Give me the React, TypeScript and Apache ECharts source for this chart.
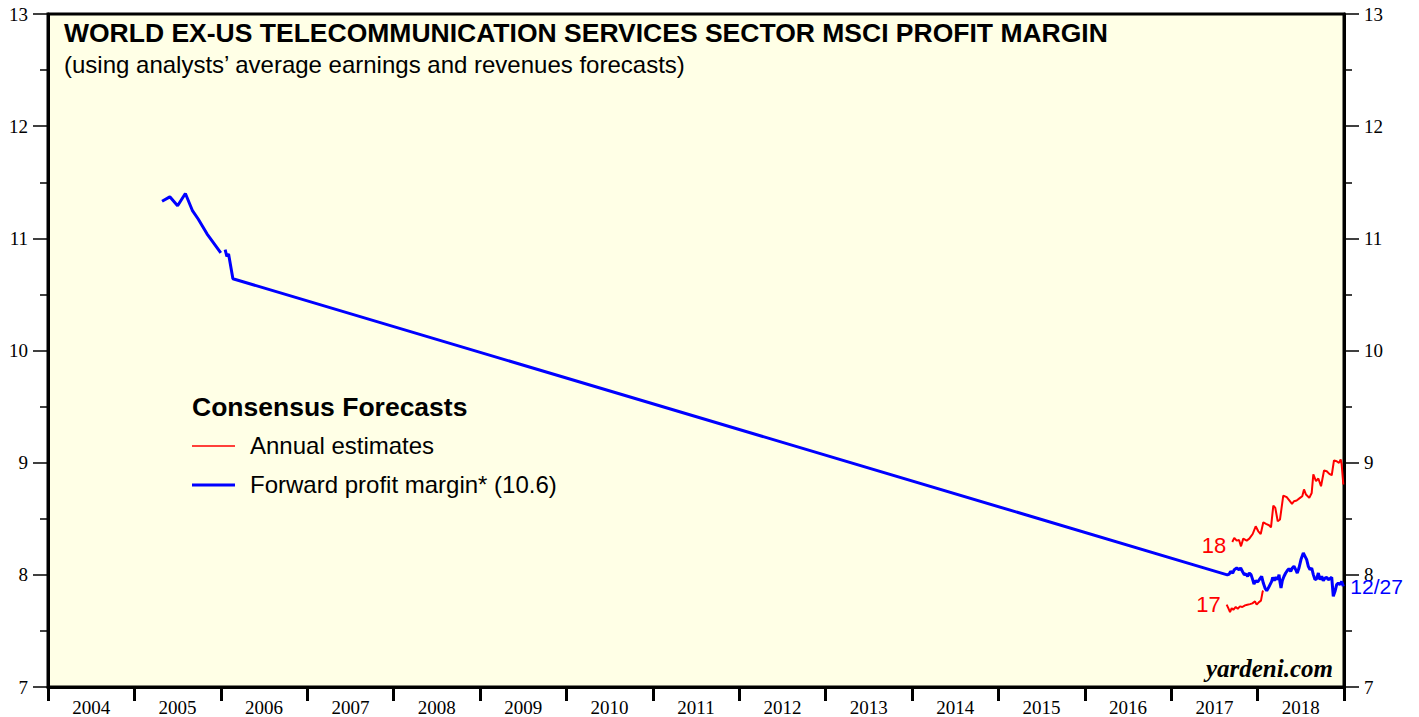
import React, { useEffect, useRef } from "react";
import * as echarts from "echarts";

const YEAR_LABELS = ["2004", "2005", "2006", "2007", "2008", "2009", "2010", "2011", "2012", "2013", "2014", "2015", "2016", "2017", "2018"];
const Y_TICKS_MIN = 7;
const Y_TICKS_MAX = 13;

// Forward profit margin (blue) – [decimal year, value]; null = gap
const forwardMargin: [number, number | null][] = [
  [2005.32, 11.33], [2005.41, 11.37], [2005.50, 11.29], [2005.59, 11.40], [2005.67, 11.25],
  [2005.74, 11.17], [2005.84, 11.04], [2006.00, 10.87], [2006.02, null], [2006.05, 10.90],
  [2006.07, 10.84], [2006.09, 10.86], [2006.14, 10.64],
  [2017.649, 8.0], [2017.672, 8.007], [2017.688, 8.031], [2017.712, 8.016], [2017.73, 8.046],
  [2017.758, 8.061], [2017.785, 8.046], [2017.804, 8.061], [2017.828, 8.025], [2017.846, 8.002],
  [2017.866, 8.007], [2017.885, 7.987], [2017.904, 8.016], [2017.924, 8.002], [2017.943, 7.957],
  [2017.958, 7.918], [2017.978, 7.948], [2018.001, 7.936], [2018.028, 7.966], [2018.047, 7.987],
  [2018.066, 7.927], [2018.086, 7.882], [2018.106, 7.859], [2018.124, 7.882], [2018.144, 7.913],
  [2018.163, 7.942], [2018.175, 7.978], [2018.193, 7.948], [2018.213, 7.978], [2018.233, 7.957],
  [2018.248, 8.002], [2018.259, 7.936], [2018.271, 7.882], [2018.286, 7.948], [2018.306, 7.987],
  [2018.325, 8.016], [2018.344, 8.038], [2018.363, 8.055], [2018.383, 8.031], [2018.402, 8.061],
  [2018.421, 8.076], [2018.441, 8.046], [2018.459, 8.016], [2018.479, 8.061], [2018.502, 8.136],
  [2018.529, 8.195], [2018.549, 8.165], [2018.568, 8.136], [2018.587, 8.076], [2018.606, 8.046],
  [2018.626, 8.061], [2018.645, 8.002], [2018.664, 7.957], [2018.684, 7.966], [2018.703, 8.016],
  [2018.722, 7.957], [2018.742, 7.987], [2018.76, 7.948], [2018.78, 7.971], [2018.8, 7.978],
  [2018.818, 7.957], [2018.838, 7.966], [2018.858, 7.978], [2018.876, 7.808], [2018.896, 7.853],
  [2018.915, 7.913], [2018.934, 7.927], [2018.954, 7.913], [2018.973, 7.942], [2018.992, 7.897],
];

// Annual estimates for 2017 (red)
const annual2017: [number, number][] = [
  [2017.642, 7.734], [2017.661, 7.703], [2017.681, 7.668], [2017.7, 7.703], [2017.719, 7.689],
  [2017.747, 7.713], [2017.77, 7.698], [2017.796, 7.719], [2017.823, 7.713], [2017.854, 7.728],
  [2017.881, 7.734], [2017.912, 7.739], [2017.939, 7.746], [2017.97, 7.763], [2017.989, 7.734],
  [2018.016, 7.757], [2018.039, 7.77], [2018.059, 7.853], [2018.066, 7.859],
];

// Annual estimates for 2018 (red)
const annual2018: [number, number][] = [
  [2017.707, 8.293], [2017.73, 8.329], [2017.758, 8.305], [2017.785, 8.311], [2017.808, 8.254],
  [2017.834, 8.323], [2017.874, 8.305], [2017.904, 8.323], [2017.943, 8.364], [2017.978, 8.433],
  [2018.008, 8.388], [2018.036, 8.364], [2018.066, 8.469], [2018.097, 8.454], [2018.132, 8.442],
  [2018.155, 8.424], [2018.182, 8.618], [2018.205, 8.596], [2018.233, 8.478], [2018.259, 8.493],
  [2018.297, 8.707], [2018.337, 8.692], [2018.367, 8.663], [2018.398, 8.632], [2018.421, 8.656],
  [2018.452, 8.663], [2018.491, 8.686], [2018.517, 8.701], [2018.537, 8.761], [2018.56, 8.716],
  [2018.598, 8.686], [2018.626, 8.73], [2018.645, 8.895], [2018.676, 8.835], [2018.703, 8.859],
  [2018.734, 8.79], [2018.769, 8.93], [2018.8, 8.924], [2018.83, 8.9], [2018.858, 8.888],
  [2018.884, 9.02], [2018.915, 9.013], [2018.942, 8.998], [2018.962, 9.029], [2018.973, 8.984],
  [2018.992, 8.805],
];

const SANS = "'Liberation Sans', Arial, Helvetica, sans-serif";
const SERIF = "'Liberation Serif', 'Times New Roman', serif";
const RED = "#ff0000";
const BLUE = "#0000ff";

export default function App() {
  const ref = useRef<HTMLDivElement>(null);

  useEffect(() => {
    if (!ref.current) return;
    const chart = echarts.init(ref.current, undefined, { renderer: "svg" });

    const yAxisBase = (position: "left" | "right") => ({
      type: "value" as const,
      position,
      min: Y_TICKS_MIN,
      max: Y_TICKS_MAX,
      interval: 1,
      axisLine: { show: true, lineStyle: { color: "#000", width: 3 } },
      axisTick: { show: true, length: 15, lineStyle: { color: "#000", width: 1.5 } },
      minorTick: { show: true, splitNumber: 2, length: 8, lineStyle: { color: "#000", width: 1.5 } },
      splitLine: { show: false },
      axisLabel: {
        margin: 20,
        color: "#000",
        fontSize: 19,
        fontFamily: SERIF,
      },
    });

    chart.setOption({
      animation: false,
      backgroundColor: "#ffffff",
      grid: {
        left: 48,
        right: 75,
        top: 14,
        bottom: 30,
        show: true,
        backgroundColor: "#ffffe6",
        borderColor: "#000",
        borderWidth: 3,
      },
      xAxis: [
        {
          type: "value",
          min: 2004,
          max: 2019,
          show: false,
        },
        {
          type: "category",
          data: YEAR_LABELS,
          position: "bottom",
          boundaryGap: true,
          axisLine: { show: true, lineStyle: { color: "#000", width: 3 } },
          axisTick: { show: true, length: 14, interval: 0, lineStyle: { color: "#000", width: 3 } },
          axisLabel: { interval: 0, margin: 11, color: "#000", fontSize: 19, fontFamily: SERIF },
          splitLine: { show: false },
        },
      ],
      yAxis: [yAxisBase("left"), yAxisBase("right")],
      series: [
        {
          name: "Annual estimates 2017",
          type: "line",
          xAxisIndex: 0,
          yAxisIndex: 0,
          data: annual2017,
          showSymbol: false,
          lineStyle: { color: RED, width: 2 },
          itemStyle: { color: RED },
          markPoint: {
            symbol: "circle",
            symbolSize: 0,
            label: { show: true, position: "left", distance: 6, color: RED, fontSize: 22, fontFamily: SANS, formatter: "17" },
            data: [{ coord: annual2017[0] }],
          },
        },
        {
          name: "Annual estimates 2018",
          type: "line",
          xAxisIndex: 0,
          yAxisIndex: 0,
          data: annual2018,
          showSymbol: false,
          lineStyle: { color: RED, width: 2 },
          itemStyle: { color: RED },
          markPoint: {
            symbol: "circle",
            symbolSize: 0,
            label: { show: true, position: "left", distance: 6, color: RED, fontSize: 22, fontFamily: SANS, formatter: "18" },
            data: [{ coord: [annual2018[0][0], annual2018[0][1] - 0.03] }],
          },
        },
        {
          name: "Forward profit margin",
          type: "line",
          xAxisIndex: 0,
          yAxisIndex: 0,
          data: forwardMargin,
          connectNulls: false,
          showSymbol: false,
          lineStyle: { color: BLUE, width: 3 },
          itemStyle: { color: BLUE },
          endLabel: {
            show: true,
            formatter: "12/27",
            color: BLUE,
            fontSize: 21,
            fontFamily: SANS,
            distance: 7,
          },
        },
      ],
      graphic: [
        {
          type: "text",
          left: 64,
          top: 19,
          style: {
            text: "WORLD EX-US TELECOMMUNICATION SERVICES SECTOR MSCI PROFIT MARGIN",
            fill: "#000",
            font: `bold 26.5px ${SANS}`,
          },
        },
        {
          type: "text",
          left: 64,
          top: 52,
          style: {
            text: "(using analysts\u2019 average earnings and revenues forecasts)",
            fill: "#000",
            font: `24px ${SANS}`,
          },
        },
        {
          type: "text",
          left: 192,
          top: 393,
          style: { text: "Consensus Forecasts", fill: "#000", font: `bold 26.5px ${SANS}` },
        },
        {
          type: "line",
          shape: { x1: 192, y1: 446, x2: 235, y2: 446 },
          style: { stroke: RED, lineWidth: 1.5 },
        },
        {
          type: "text",
          left: 250,
          top: 433,
          style: { text: "Annual estimates", fill: "#000", font: `24px ${SANS}` },
        },
        {
          type: "line",
          shape: { x1: 192, y1: 485, x2: 235, y2: 485 },
          style: { stroke: BLUE, lineWidth: 3 },
        },
        {
          type: "text",
          left: 250,
          top: 472,
          style: { text: "Forward profit margin* (10.6)", fill: "#000", font: `24px ${SANS}` },
        },
        {
          type: "text",
          right: 86,
          top: 656,
          style: { text: "yardeni.com", fill: "#000", font: `italic bold 25px ${SERIF}` },
        },
      ],
    });

    return () => chart.dispose();
  }, []);

  return (
    <div
      ref={ref}
      style={{ position: "fixed", left: 0, top: 0, width: 1419, height: 717, background: "#fff" }}
    />
  );
}
